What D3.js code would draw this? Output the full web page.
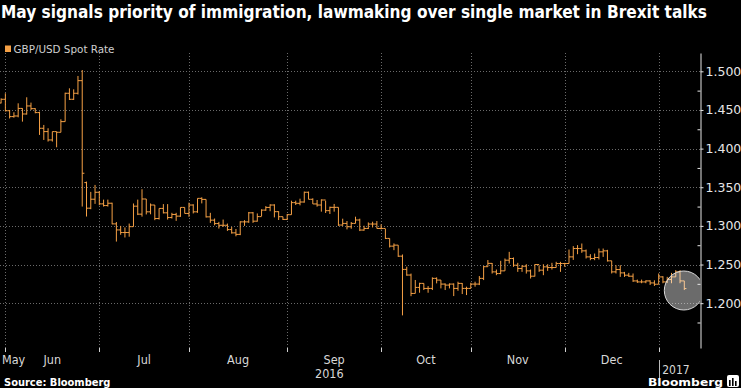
<!DOCTYPE html>
<meta charset="utf-8">
<head>
    <script type="text/javascript" src="https://d3js.org/d3.v7.min.js"></script>
    <style>
        body {
            margin: 0;
            background: #000;
        }
        text {
            font-family: "DejaVu Sans Condensed", "DejaVu Sans", sans-serif;
        }
    </style>
    <title>GBP/USD Spot Rate</title>
</head>

<body>
    <div id="chart"></div>

    <script>
        // size of the picture
        var w = 741;
        var h = 388;

        // chart texts
        var title = "May signals priority of immigration, lawmaking over single market in Brexit talks";
        var seriesName = "GBP/USD Spot Rate";
        var monthLabels = ["May", "Jun", "Jul", "Aug", "Sep", "Oct", "Nov", "Dec"];
        var yearLabels = ["2016", "2017"];
        var yTicks = [1.200, 1.250, 1.300, 1.350, 1.400, 1.450, 1.500];
        var yMinorTicks = [1.175, 1.225, 1.275, 1.325, 1.375, 1.425, 1.475];

        // daily bars, one per weekday from 30 May 2016 to 9 Jan 2017
        var firstDay = new Date(2016, 4, 30);
        var lastDay = new Date(2017, 0, 9);

        var open = [
            1.4590, 1.4638, 1.4490, 1.4414, 1.4422, 1.4520, 1.4448, 1.4552, 1.4517, 1.4466,
            1.4263, 1.4220, 1.4112, 1.4220, 1.4211, 1.4349, 1.4716, 1.4638, 1.4716, 1.4879,
            1.3560, 1.3229, 1.3345, 1.3435, 1.3285, 1.3263, 1.3293, 1.3026, 1.2948, 1.2914,
            1.2914, 1.2990, 1.3255, 1.3152, 1.3348, 1.3182, 1.3270, 1.3095, 1.3226, 1.3169,
            1.3108, 1.3148, 1.3126, 1.3239, 1.3161, 1.3270, 1.3182, 1.3356, 1.3343, 1.3117,
            1.3074, 1.3030, 1.3008, 1.3008, 1.2952, 1.2910, 1.2890, 1.3052, 1.3052, 1.3169,
            1.3061, 1.3120, 1.3204, 1.3239, 1.3270, 1.3184, 1.3119, 1.3084, 1.3145, 1.3301,
            1.3292, 1.3309, 1.3435, 1.3344, 1.3284, 1.3270, 1.3335, 1.3197, 1.3240, 1.3240,
            1.3011, 1.3032, 1.2989, 1.3032, 1.3076, 1.2946, 1.2967, 1.3024, 1.3024, 1.2967,
            1.2967, 1.2838, 1.2738, 1.2751, 1.2608, 1.2437, 1.2364, 1.2126, 1.2204, 1.2256,
            1.2191, 1.2191, 1.2321, 1.2299, 1.2247, 1.2234, 1.2247, 1.2191, 1.2256, 1.2191,
            1.2191, 1.2247, 1.2247, 1.2321, 1.2472, 1.2515, 1.2405, 1.2383, 1.2418, 1.2556,
            1.2578, 1.2491, 1.2448, 1.2478, 1.2418, 1.2349, 1.2500, 1.2427, 1.2470, 1.2461,
            1.2461, 1.2513, 1.2513, 1.2513, 1.2599, 1.2707, 1.2707, 1.2677, 1.2599, 1.2578,
            1.2591, 1.2664, 1.2677, 1.2548, 1.2405, 1.2435, 1.2392, 1.2362, 1.2349, 1.2288,
            1.2275, 1.2275, 1.2288, 1.2262, 1.2245, 1.2340, 1.2275, 1.2306, 1.2340, 1.2405,
            1.2288
        ];
        var high = [
            1.4650, 1.4716, 1.4500, 1.4470, 1.4586, 1.4522, 1.4664, 1.4595, 1.4522, 1.4478,
            1.4306, 1.4263, 1.4220, 1.4220, 1.4379, 1.4724, 1.4780, 1.4767, 1.4940, 1.5017,
            1.3573, 1.3440, 1.3530, 1.3450, 1.3340, 1.3340, 1.3300, 1.3050, 1.3000, 1.2980,
            1.3030, 1.3290, 1.3340, 1.3474, 1.3348, 1.3290, 1.3270, 1.3226, 1.3282, 1.3282,
            1.3169, 1.3169, 1.3239, 1.3239, 1.3300, 1.3280, 1.3356, 1.3370, 1.3343, 1.3169,
            1.3095, 1.3052, 1.3082, 1.3030, 1.2987, 1.2960, 1.3060, 1.3074, 1.3180, 1.3180,
            1.3161, 1.3215, 1.3256, 1.3280, 1.3280, 1.3190, 1.3119, 1.3153, 1.3326, 1.3326,
            1.3352, 1.3444, 1.3444, 1.3357, 1.3335, 1.3344, 1.3326, 1.3249, 1.3284, 1.3240,
            1.3093, 1.3063, 1.3050, 1.3119, 1.3093, 1.3002, 1.3045, 1.3054, 1.3063, 1.3020,
            1.2963, 1.2838, 1.2773, 1.2751, 1.2630, 1.2472, 1.2383, 1.2300, 1.2264, 1.2256,
            1.2221, 1.2334, 1.2334, 1.2299, 1.2256, 1.2256, 1.2256, 1.2278, 1.2260, 1.2213,
            1.2264, 1.2278, 1.2351, 1.2480, 1.2558, 1.2520, 1.2435, 1.2548, 1.2578, 1.2664,
            1.2591, 1.2522, 1.2491, 1.2504, 1.2435, 1.2504, 1.2491, 1.2504, 1.2504, 1.2522,
            1.2535, 1.2535, 1.2522, 1.2694, 1.2738, 1.2751, 1.2772, 1.2694, 1.2634, 1.2642,
            1.2707, 1.2707, 1.2690, 1.2548, 1.2491, 1.2491, 1.2405, 1.2392, 1.2384, 1.2305,
            1.2305, 1.2296, 1.2296, 1.2296, 1.2384, 1.2349, 1.2340, 1.2392, 1.2427, 1.2427,
            1.2288
        ];
        var low = [
            1.4585, 1.4480, 1.4390, 1.4400, 1.4405, 1.4349, 1.4440, 1.4500, 1.4457, 1.4177,
            1.4112, 1.4091, 1.4091, 1.4017, 1.4211, 1.4349, 1.4629, 1.4629, 1.4700, 1.3250,
            1.3121, 1.3216, 1.3285, 1.3268, 1.3250, 1.3250, 1.3020, 1.2797, 1.2885, 1.2850,
            1.2860, 1.2990, 1.3140, 1.3120, 1.3148, 1.3150, 1.3074, 1.3082, 1.3161, 1.3082,
            1.3095, 1.3065, 1.3117, 1.3161, 1.3117, 1.3161, 1.3169, 1.3291, 1.3108, 1.3039,
            1.3008, 1.2965, 1.2987, 1.2935, 1.2900, 1.2865, 1.2880, 1.3000, 1.3039, 1.3039,
            1.3055, 1.3126, 1.3195, 1.3190, 1.3110, 1.3076, 1.3076, 1.3076, 1.3145, 1.3270,
            1.3266, 1.3300, 1.3344, 1.3284, 1.3249, 1.3184, 1.3167, 1.3154, 1.3184, 1.3000,
            1.3000, 1.2955, 1.2963, 1.3032, 1.2933, 1.2937, 1.2959, 1.2980, 1.2967, 1.2955,
            1.2830, 1.2721, 1.2686, 1.2599, 1.1842, 1.2355, 1.2090, 1.2126, 1.2135, 1.2170,
            1.2135, 1.2170, 1.2256, 1.2191, 1.2170, 1.2191, 1.2092, 1.2160, 1.2118, 1.2105,
            1.2191, 1.2213, 1.2234, 1.2299, 1.2472, 1.2383, 1.2362, 1.2375, 1.2418, 1.2513,
            1.2470, 1.2405, 1.2405, 1.2383, 1.2319, 1.2345, 1.2405, 1.2362, 1.2418, 1.2435,
            1.2461, 1.2405, 1.2470, 1.2513, 1.2560, 1.2634, 1.2651, 1.2578, 1.2556, 1.2556,
            1.2565, 1.2599, 1.2539, 1.2384, 1.2384, 1.2340, 1.2340, 1.2340, 1.2275, 1.2262,
            1.2258, 1.2258, 1.2236, 1.2223, 1.2245, 1.2258, 1.2262, 1.2258, 1.2340, 1.2258,
            1.2170
        ];
        var close = [
            1.4638, 1.4490, 1.4414, 1.4422, 1.4520, 1.4448, 1.4552, 1.4517, 1.4466, 1.4263,
            1.4220, 1.4112, 1.4220, 1.4211, 1.4349, 1.4716, 1.4638, 1.4716, 1.4879, 1.3681,
            1.3229, 1.3345, 1.3435, 1.3285, 1.3263, 1.3293, 1.3026, 1.2948, 1.2914, 1.2914,
            1.2990, 1.3255, 1.3152, 1.3348, 1.3182, 1.3270, 1.3095, 1.3226, 1.3169, 1.3108,
            1.3148, 1.3126, 1.3239, 1.3161, 1.3270, 1.3182, 1.3356, 1.3343, 1.3117, 1.3074,
            1.3030, 1.3008, 1.3008, 1.2952, 1.2910, 1.2890, 1.3052, 1.3052, 1.3169, 1.3061,
            1.3120, 1.3204, 1.3239, 1.3270, 1.3184, 1.3119, 1.3084, 1.3145, 1.3301, 1.3292,
            1.3309, 1.3435, 1.3344, 1.3284, 1.3270, 1.3335, 1.3197, 1.3240, 1.3240, 1.3011,
            1.3032, 1.2989, 1.3032, 1.3076, 1.2946, 1.2967, 1.3024, 1.3024, 1.2967, 1.2967,
            1.2838, 1.2738, 1.2751, 1.2608, 1.2437, 1.2364, 1.2126, 1.2204, 1.2256, 1.2191,
            1.2191, 1.2321, 1.2299, 1.2247, 1.2234, 1.2247, 1.2191, 1.2256, 1.2191, 1.2191,
            1.2247, 1.2247, 1.2321, 1.2472, 1.2515, 1.2405, 1.2383, 1.2418, 1.2556, 1.2578,
            1.2491, 1.2448, 1.2478, 1.2418, 1.2349, 1.2500, 1.2427, 1.2470, 1.2461, 1.2461,
            1.2513, 1.2513, 1.2513, 1.2599, 1.2707, 1.2707, 1.2677, 1.2599, 1.2578, 1.2591,
            1.2664, 1.2677, 1.2548, 1.2405, 1.2435, 1.2392, 1.2362, 1.2349, 1.2288, 1.2275,
            1.2275, 1.2288, 1.2262, 1.2245, 1.2340, 1.2275, 1.2306, 1.2340, 1.2405, 1.2288,
            1.2189
        ];

        // trading days (weekdays) for the x axis
        var days = [];
        for (var d = new Date(firstDay); d <= lastDay; d.setDate(d.getDate() + 1)) {
            if (d.getDay() !== 0 && d.getDay() !== 6) days.push(new Date(d));
        }
        var bars = days.map((day, i) => ({
            day: day, i: i, o: open[i], h: high[i], l: low[i], c: close[i]
        }));

        var ORANGE = "#f5a045";
        var plotTop = 53, plotBottom = 348, plotRight = 700;
        var step = 4.27;

        var x = d3.scaleLinear()
            .domain([0, bars.length - 1])
            .range([1.1, 1.1 + step * (bars.length - 1)]);
        var y = d3.scaleLinear()
            .domain([1.142, 1.5237])
            .range([plotBottom, plotTop]);

        var svg = d3.select("#chart")
            .append("svg")
            .attr("width", w)
            .attr("height", h)
            .style("background", "#000")
            .style("display", "block");

        svg.append("defs").append("clipPath")
            .attr("id", "plotClip")
            .append("rect")
            .attr("x", 0).attr("y", plotTop)
            .attr("width", plotRight).attr("height", plotBottom - plotTop);

        // title + legend
        svg.append("text")
            .attr("x", 1).attr("y", 17.5)
            .attr("fill", "#fff")
            .style("font-weight", "bold")
            .style("font-size", "17px")
            .attr("textLength", 706)
            .attr("lengthAdjust", "spacingAndGlyphs")
            .text(title);

        svg.append("rect")
            .attr("x", 5).attr("y", 45.5)
            .attr("width", 6).attr("height", 6.5)
            .attr("fill", ORANGE);
        svg.append("text")
            .attr("x", 13.5).attr("y", 52.5)
            .attr("fill", "#cfcfcf")
            .style("font-size", "10.5px")
            .attr("textLength", 101)
            .attr("lengthAdjust", "spacingAndGlyphs")
            .text(seriesName);

        // last bar of each month -> month boundaries
        var bounds = [];
        bars.forEach((b, i) => {
            if (i < bars.length - 1 && bars[i + 1].day.getMonth() !== b.day.getMonth()) bounds.push(i);
        });

        // grid
        var grid = svg.append("g").attr("id", "grid")
            .attr("stroke", "#6a6a6a")
            .attr("stroke-dasharray", "1,2");
        grid.selectAll("line.h")
            .data(yTicks)
            .enter()
            .append("line")
            .attr("class", "h")
            .attr("x1", 0).attr("x2", plotRight)
            .attr("y1", d => Math.round(y(d)) + 0.5)
            .attr("y2", d => Math.round(y(d)) + 0.5);
        grid.selectAll("line.v")
            .data(bounds)
            .enter()
            .append("line")
            .attr("class", "v")
            .attr("x1", d => Math.round(x(d)) + 0.5)
            .attr("x2", d => Math.round(x(d)) + 0.5)
            .attr("y1", plotTop).attr("y2", plotBottom);

        // OHLC bars
        var half = step / 2;
        var barG = svg.append("g")
            .attr("id", "bars")
            .attr("clip-path", "url(#plotClip)")
            .attr("stroke", ORANGE)
            .attr("stroke-width", 1)
            .attr("fill", "none");
        barG.selectAll("path")
            .data(bars)
            .enter()
            .append("path")
            .attr("d", b => {
                var bx = x(b.i);
                return "M" + bx + "," + y(b.h) + "V" + y(b.l) +
                    "M" + (bx - half) + "," + y(b.o) + "H" + bx +
                    "M" + bx + "," + y(b.c) + "H" + (bx + half);
            });

        // highlight circle round the last days
        svg.append("circle")
            .attr("clip-path", "url(#plotClip)")
            .attr("cx", x(bars.length - 1) - 0.5)
            .attr("cy", y(1.2164))
            .attr("r", 19.5)
            .attr("fill", "#fff")
            .attr("fill-opacity", 0.42)
            .attr("stroke", "#d8d8d8")
            .attr("stroke-width", 1);

        // right axis
        var yAxis = d3.axisRight(y)
            .tickValues(yTicks)
            .tickSize(3)
            .tickSizeOuter(0)
            .tickPadding(2)
            .tickFormat(d3.format(".3f"));
        var axisG = svg.append("g")
            .attr("transform", "translate(" + (plotRight + 0.5) + ",0)")
            .call(yAxis);
        axisG.select(".domain").attr("stroke", "#e6e6e6");
        axisG.selectAll(".tick line").attr("stroke", "#e6e6e6");
        axisG.selectAll(".tick text")
            .attr("fill", "#e6e6e6")
            .style("font-family", "'DejaVu Sans', sans-serif")
            .style("font-size", "12.5px");

        var minorAxis = d3.axisLeft(y)
            .tickValues(yMinorTicks)
            .tickSize(3)
            .tickSizeOuter(0)
            .tickFormat("");
        var minorG = svg.append("g")
            .attr("transform", "translate(" + (plotRight + 0.5) + ",0)")
            .call(minorAxis);
        minorG.select(".domain").remove();
        minorG.selectAll(".tick line").attr("stroke", "#e6e6e6");

        // bottom axis: ticks at month boundaries, labels centred in each month
        svg.append("g")
            .selectAll("line")
            .data(bounds)
            .enter()
            .append("line")
            .attr("x1", d => Math.round(x(d)) + 0.5)
            .attr("x2", d => Math.round(x(d)) + 0.5)
            .attr("y1", plotBottom).attr("y2", plotBottom + 4)
            .attr("stroke", "#d0d0d0");

        var edges = [-0.5].concat(bounds);
        svg.append("g")
            .selectAll("text")
            .data(monthLabels)
            .enter()
            .append("text")
            .attr("x", (d, i) => i === 0 ? 2 : (x(edges[i]) + x(edges[i + 1])) / 2)
            .attr("y", 364)
            .attr("text-anchor", (d, i) => i === 0 ? "start" : "middle")
            .attr("fill", "#d8d8d8")
            .style("font-size", "12.5px")
            .text(d => d);

        var yearEdge = bounds[bounds.length - 1];
        svg.append("text")
            .attr("x", x(yearEdge) / 2)
            .attr("y", 378)
            .attr("text-anchor", "middle")
            .attr("fill", "#d8d8d8")
            .style("font-size", "12.5px")
            .text(yearLabels[0]);
        svg.append("line")
            .attr("x1", Math.round(x(yearEdge)) + 0.5)
            .attr("x2", Math.round(x(yearEdge)) + 0.5)
            .attr("y1", 360).attr("y2", 378)
            .attr("stroke", "#bbbbbb");
        svg.append("text")
            .attr("x", x(yearEdge) + 3.5)
            .attr("y", 373.5)
            .attr("fill", "#d8d8d8")
            .style("font-size", "12px")
            .text(yearLabels[1]);

        // footer
        svg.append("text")
            .attr("x", 4).attr("y", 386)
            .attr("fill", "#fff")
            .style("font-weight", "bold")
            .style("font-size", "11px")
            .text("Source: Bloomberg");

        svg.append("text")
            .attr("x", 648).attr("y", 385.5)
            .attr("fill", "#fff")
            .style("font-weight", "bold")
            .style("font-size", "10.5px")
            .attr("textLength", 75)
            .attr("lengthAdjust", "spacingAndGlyphs")
            .text("Bloomberg");
        var logo = svg.append("g").attr("transform", "translate(727,375)");
        logo.append("rect")
            .attr("width", 12).attr("height", 12).attr("rx", 2)
            .attr("fill", "#fff");
        logo.selectAll("rect.b")
            .data([[3, 5, 6], [6, 3, 8], [9, 6, 5]])
            .enter()
            .append("rect")
            .attr("class", "b")
            .attr("x", d => d[0] - 1).attr("y", d => d[1])
            .attr("width", 1.6).attr("height", d => d[2])
            .attr("fill", "#000");
    </script>
</body>

</html>
